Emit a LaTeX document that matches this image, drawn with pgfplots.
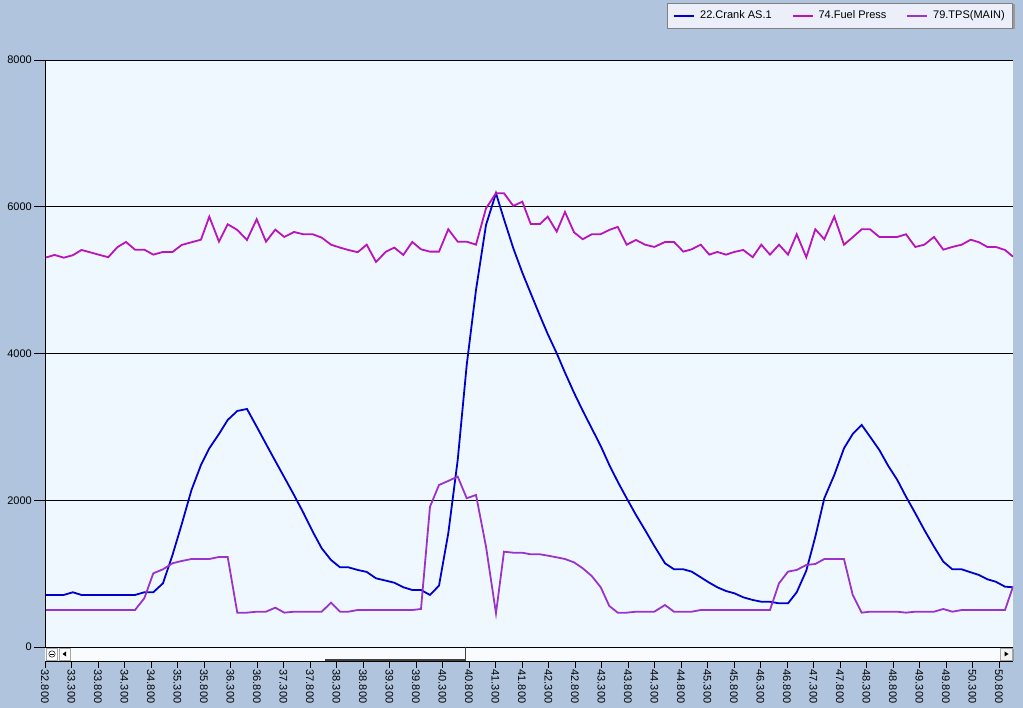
\documentclass[border=0pt]{standalone}
\usepackage{pgfplots}
\pgfplotsset{compat=1.18}
\usepackage{pgfplotstable}
\usepackage{fontspec}
\setmainfont{Liberation Sans}
\definecolor{bgblue}{RGB}{176,196,222}
\definecolor{plotbg}{RGB}{240,248,255}
\definecolor{crank}{RGB}{0,0,205}
\definecolor{fuel}{RGB}{185,20,185}
\definecolor{tps}{RGB}{153,51,204}
\definecolor{legbg}{RGB}{236,238,250}

\pgfplotstableread{
x crank fuel tps
32.809 709 5306 504
32.979 709 5343 504
33.153 709 5306 504
33.325 746 5339 504
33.489 709 5411 504
33.658 709 5378 504
33.826 709 5344 504
33.994 709 5312 504
34.164 709 5448 504
34.328 709 5520 504
34.498 709 5415 504
34.674 746 5415 664
34.843 746 5347 1004
35.026 868 5384 1059
35.206 1254 5384 1141
35.379 1672 5479 1172
35.564 2140 5516 1199
35.743 2481 5551 1199
35.900 2708 5865 1199
36.083 2903 5524 1227
36.247 3094 5761 1227
36.428 3217 5684 468
36.611 3244 5547 468
36.794 3003 5830 481
36.970 2767 5524 481
37.145 2535 5688 536
37.315 2313 5588 468
37.498 2072 5656 481
37.674 1831 5625 481
37.851 1572 5625 481
38.021 1345 5579 481
38.196 1186 5483 604
38.366 1086 5443 481
38.523 1086 5411 481
38.700 1050 5380 504
38.870 1023 5483 504
39.045 936 5248 504
39.234 904 5388 504
39.391 876 5443 504
39.560 814 5343 504
39.730 777 5520 504
39.894 777 5420 518
40.064 709 5388 1912
40.234 836 5388 2208
40.409 1550 5693 2263
40.587 2549 5524 2322
40.757 3844 5524 2027
40.932 4866 5483 2072
41.121 5752 5979 1367
41.309 6184 6184 459
41.460 5830 6184 1299
41.636 5434 6011 1285
41.806 5102 6069 1285
41.964 4821 5765 1263
42.140 4512 5765 1263
42.285 4266 5865 1245
42.455 4003 5661 1222
42.611 3739 5929 1199
42.781 3466 5652 1154
42.945 3221 5557 1073
43.115 2981 5625 968
43.285 2740 5625 814
43.447 2481 5684 559
43.606 2253 5725 468
43.775 2027 5483 468
43.951 1799 5547 481
44.121 1595 5483 481
44.296 1377 5452 481
44.498 1141 5520 572
44.668 1059 5520 481
44.843 1059 5388 481
45.002 1027 5420 481
45.172 950 5483 504
45.334 876 5347 504
45.485 814 5384 504
45.649 763 5347 504
45.806 732 5384 504
45.975 677 5411 504
46.153 641 5312 504
46.315 617 5483 504
46.479 617 5347 504
46.649 595 5483 868
46.819 595 5347 1027
46.983 746 5625 1050
47.164 1040 5312 1118
47.334 1503 5693 1131
47.504 2027 5557 1199
47.692 2344 5865 1199
47.875 2708 5483 1199
48.040 2903 5584 709
48.209 3026 5693 468
48.366 2867 5693 481
48.542 2685 5588 481
48.711 2467 5588 481
48.881 2276 5588 481
49.045 2049 5625 468
49.221 1822 5452 481
49.391 1595 5483 481
49.574 1367 5588 481
49.749 1163 5415 518
49.919 1059 5452 481
50.096 1059 5483 504
50.266 1018 5551 504
50.423 981 5516 504
50.579 923 5452 504
50.738 890 5452 504
50.913 822 5411 504
51.064 814 5320 822
}\data

\begin{document}
\begin{tikzpicture}[x=1pt,y=1pt]
\fill[bgblue] (0,0) rectangle (1023,708);
% legend shadow
\fill[gray!80] (669.5,678.5) rectangle (1014.5,703.5);
\begin{axis}[
  at={(45pt,61pt)}, anchor=south west,
  scale only axis, width=968pt, height=587pt,
  xmin=32.8, xmax=51.064, ymin=0, ymax=8000,
  axis background/.style={fill=plotbg},
  axis line style={draw=none},
  xtick=\empty,
  ytick={0,2000,4000,6000,8000},
  yticklabels={0,2000,4000,6000,8000},
  ytick pos=left,
  ymajorgrids, grid style={black, line width=0.8pt},
  tick align=outside, major tick length=11pt,
  ytick style={black, line width=0.8pt},
  /pgf/number format/assume math mode=true,
  yticklabel style={font=\fontsize{11}{13}\selectfont, inner sep=2pt},
  legend columns=3,
  legend style={at={(1,1)}, anchor=north east, yshift=57.3pt,
    fill=legbg, draw=gray, line width=0.6pt,
    font=\fontsize{11}{13}\selectfont, inner xsep=6pt, inner ysep=6pt,
    /tikz/every odd column/.append style={column sep=3pt},
    /tikz/every even column/.append style={column sep=18pt}},
  legend image code/.code={\draw[#1, line width=1.8pt] (0pt,0pt) -- (20pt,0pt);},
  legend entries={22.Crank AS.1, 74.Fuel Press, 79.TPS(MAIN)},
]
\addplot[crank, line width=1.8pt] table[x=x,y=crank]{\data};
\addplot[fuel, line width=1.8pt] table[x=x,y=fuel]{\data};
\addplot[tps, line width=1.8pt] table[x=x,y=tps]{\data};
\draw[black, line width=0.8pt] (rel axis cs:0,0) -- (rel axis cs:0,1) -- (rel axis cs:1,1);
\end{axis}
% scroll bar
\fill[white!60!plotbg] (45,47) rectangle (1013,61);
\draw[black, line width=0.8pt] (45,61) -- (1013,61);
\draw[gray!70, fill=white] (46.5,48) rectangle (57.5,60);
\draw[black, line width=0.5pt] (52,54) circle (3.2);
\draw[black, line width=0.6pt] (50.2,54) -- (53.8,54);
\draw[gray!70, fill=white] (59,48) rectangle (70,60);
\fill[black] (62.5,54) -- (66,56.5) -- (66,51.5) -- cycle;
% thumb (raised: dark bottom and right edges)
\fill[gray!50!black] (325,47) rectangle (466,49);
\fill[gray!50!black] (464.5,47) rectangle (466,60.5);
\fill[gray!80] (1001.5,46.5) rectangle (1013.5,58.5);
\draw[gray!70, fill=white!90!gray] (1000,48) rectangle (1012,60);
\fill[black] (1004.5,51.5) -- (1004.5,56.5) -- (1008.5,54) -- cycle;
\begin{axis}[
  at={(45pt,47pt)}, anchor=south west,
  scale only axis, width=968pt, height=14pt,
  xmin=32.8, xmax=51.064, ymin=0, ymax=1,
  axis line style={draw=none},
  ytick=\empty,
  xtick pos=bottom,
  xtick={32.8,33.3,33.8,34.3,34.8,35.3,35.8,36.3,36.8,37.3,37.8,38.3,38.8,39.3,39.8,40.3,40.8,41.3,41.8,42.3,42.8,43.3,43.8,44.3,44.8,45.3,45.8,46.3,46.8,47.3,47.8,48.3,48.8,49.3,49.8,50.3,50.8},
  xticklabels={32.800,33.300,33.800,34.300,34.800,35.300,35.800,36.300,36.800,37.300,37.800,38.300,38.800,39.300,39.800,40.300,40.800,41.300,41.800,42.300,42.800,43.300,43.800,44.300,44.800,45.300,45.800,46.300,46.800,47.300,47.800,48.300,48.800,49.300,49.800,50.300,50.800},
  tick align=outside, major tick length=7pt,
  xtick style={black, line width=0.8pt},
  /pgf/number format/assume math mode=true,
  xticklabel style={rotate=-90, anchor=west, font=\fontsize{11}{13}\selectfont, inner sep=1.5pt},
]
\end{axis}
\draw[black, line width=0.8pt] (45,47) -- (1013,47);
\pgfresetboundingbox
\path[use as bounding box] (0,0) rectangle (1023,708);
\end{tikzpicture}
\end{document}
